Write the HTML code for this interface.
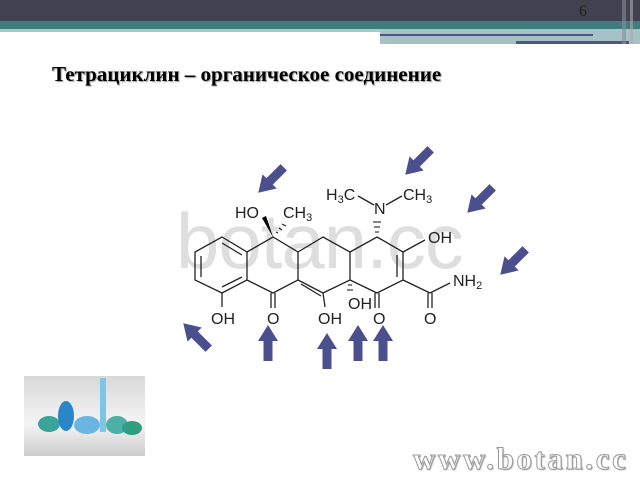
<!DOCTYPE html>
<html><head><meta charset="utf-8"><style>
body{margin:0;width:640px;height:480px;overflow:hidden;background:#fff;position:relative;font-family:"Liberation Serif",serif}
.a{position:absolute}
</style></head><body>
<div class="a" style="left:0;top:0;width:640px;height:21px;background:#41414f"></div>
<div class="a" style="left:0;top:21px;width:640px;height:8px;background:#3f7c7e"></div>
<div class="a" style="left:0;top:29px;width:380px;height:3px;background:#a9c6c8"></div>
<div class="a" style="left:380px;top:29px;width:260px;height:15px;background:#a6c2c6"></div>
<div class="a" style="left:380px;top:34px;width:213px;height:2px;background:#4d5889"></div>
<div class="a" style="left:516px;top:41px;width:113px;height:3px;background:#4d5889"></div>
<div class="a" style="left:622px;top:0;width:4px;height:44px;background:#8c8c98;opacity:.6"></div>
<div class="a" style="left:630px;top:0;width:3px;height:44px;background:#aaa;opacity:.6"></div>
<div class="a" style="left:579px;top:3px;font-size:16px;color:#222">6</div>
<div class="a" style="left:52px;top:62px;font-size:21px;font-weight:bold;color:#000;text-shadow:1px 1px 1px #999;white-space:nowrap">Тетрациклин – органическое соединение</div>
<div class="a" style="left:176px;top:196px;font-family:'Liberation Sans',sans-serif;font-size:78px;color:#dedede;letter-spacing:-1px">botan.cc</div>
<svg class="a" style="left:0;top:0" width="640" height="480">
<g stroke="#222" stroke-width="1.3" fill="none">
<polygon points="222,237 247,252 247,280 222,293 195,280 195,252"/>
<line x1="201" y1="256" x2="201" y2="277"/><line x1="222" y1="243" x2="242" y2="255"/><line x1="222" y1="287" x2="242" y2="277"/>
<polyline points="247,252 273,237 298,252 298,280 273,293 247,280"/>
<polyline points="298,252 323,237 350,252 350,280 323,293 298,280"/>
<line x1="301" y1="284" x2="321" y2="296"/>
<polyline points="350,252 377,237 403,252 403,280 377,293 350,280"/>
<line x1="397" y1="255" x2="397" y2="277"/>
<line x1="403" y1="280" x2="430" y2="293"/><line x1="430" y1="293" x2="450" y2="283"/>
<line x1="428" y1="293" x2="428" y2="308"/><line x1="432" y1="293" x2="432" y2="308"/>
<line x1="222" y1="293" x2="222" y2="307"/>
<line x1="271" y1="293" x2="271" y2="308"/><line x1="275" y1="293" x2="275" y2="308"/>
<line x1="323" y1="293" x2="325" y2="307"/>
<line x1="375" y1="293" x2="375" y2="308"/><line x1="379" y1="293" x2="379" y2="308"/>
<line x1="403" y1="252" x2="425" y2="240"/>
<line x1="358" y1="196" x2="374" y2="205"/><line x1="386" y1="205" x2="402" y2="196"/>
</g>
<polygon points="273,237 262,218 266,216" fill="#000"/>
<g stroke="#222" stroke-width="1.1"><line x1="276" y1="232" x2="278" y2="233"/><line x1="279" y1="228" x2="282" y2="230"/><line x1="282" y1="224" x2="286" y2="226"/>
<line x1="375" y1="232" x2="379" y2="232"/><line x1="374" y1="227" x2="380" y2="227"/><line x1="373" y1="222" x2="381" y2="222"/>
<line x1="348" y1="285" x2="352" y2="285"/><line x1="347" y1="290" x2="353" y2="290"/></g>
<g font-family="Liberation Sans,sans-serif" font-size="16" fill="#222">
<text x="235" y="218">HO</text><text x="283" y="218">CH<tspan font-size="11" dy="3">3</tspan></text>
<text x="326" y="200">H<tspan font-size="11" dy="3">3</tspan><tspan dy="-3">C</tspan></text>
<text x="374" y="214">N</text>
<text x="403" y="200">CH<tspan font-size="11" dy="3">3</tspan></text>
<text x="428" y="243">OH</text>
<text x="453" y="286">NH<tspan font-size="11" dy="3">2</tspan></text>
<text x="211" y="324">OH</text><text x="267" y="324">O</text><text x="318" y="324">OH</text>
<text x="348" y="309">OH</text><text x="373" y="324">O</text><text x="424" y="324">O</text>
</g>
<defs><polygon id="ar" points="-4.5,18 -4.5,-2 -10,-2 0,-18 10,-2 4.5,-2 4.5,18" fill="#4b4f8d"/></defs>
<use href="#ar" transform="translate(271,180) rotate(-135)"/>
<use href="#ar" transform="translate(418,162) rotate(-135)"/>
<use href="#ar" transform="translate(480,200) rotate(-135)"/>
<use href="#ar" transform="translate(513,262) rotate(-135)"/>
<use href="#ar" transform="translate(196,336) rotate(-45)"/>
<use href="#ar" transform="translate(268,343)"/>
<use href="#ar" transform="translate(327,351)"/>
<use href="#ar" transform="translate(358,343)"/>
<use href="#ar" transform="translate(383,343)"/>
</svg>
<div class="a" style="left:24px;top:376px;width:121px;height:80px;background:linear-gradient(#d8d8d8,#f4f4f4 60%,#ccc)">
<div class="a" style="left:14px;top:40px;width:22px;height:16px;border-radius:50%;background:#3aa39a"></div>
<div class="a" style="left:34px;top:25px;width:16px;height:30px;border-radius:50%;background:#2a86c8"></div>
<div class="a" style="left:50px;top:40px;width:26px;height:18px;border-radius:50%;background:#6bb6e0"></div>
<div class="a" style="left:76px;top:2px;width:6px;height:54px;background:#7fc3e6"></div>
<div class="a" style="left:82px;top:40px;width:22px;height:18px;border-radius:50%;background:#4bb0a5"></div>
<div class="a" style="left:98px;top:45px;width:20px;height:14px;border-radius:50%;background:#2f9d80"></div>
</div>
<div class="a" style="left:413px;top:441px;font-size:31px;font-weight:bold;color:#fff;-webkit-text-stroke:1px #999;text-shadow:1px 1px 1px #aaa;letter-spacing:2.6px;white-space:nowrap">www.botan.cc</div>
</body></html>
